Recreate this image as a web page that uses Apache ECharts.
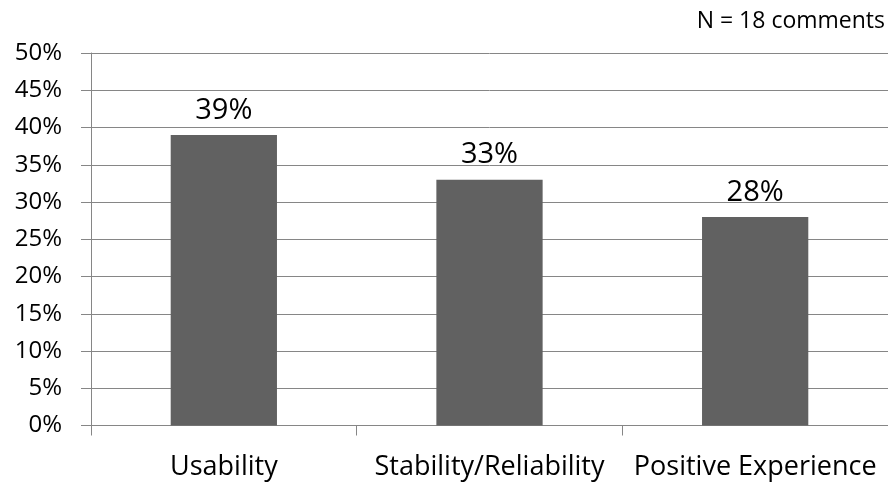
<!DOCTYPE html>
<html>
<head>
<meta charset="utf-8">
<script src="https://cdn.jsdelivr.net/npm/echarts@6/dist/echarts.min.js"></script>
<style>
  html, body { margin: 0; padding: 0; background: #ffffff; }
  #chart { width: 888px; height: 486px; }
</style>
</head>
<body>
<div id="chart"></div>
<script>
// Share of comments by theme
const categories = ['Usability', 'Stability/Reliability', 'Positive Experience'];
const shares = [39, 33, 28];
const noteText = 'N = 18 comments';

const FONT = '"Open Sans", "Noto Sans", sans-serif';
const GRID_COLOR = '#868686';

const chart = echarts.init(document.getElementById('chart'), null, { renderer: 'canvas' });

chart.setOption({
  backgroundColor: '#ffffff',
  animation: false,
  title: {
    text: noteText,
    right: 3,
    top: 10,
    padding: 0,
    textStyle: { fontFamily: FONT, fontSize: 23, fontWeight: 'normal', color: '#000000' }
  },
  grid: { left: 91, top: 53, width: 801, height: 372.5, containLabel: false },
  xAxis: {
    type: 'category',
    data: categories,
    axisLine: { show: true, lineStyle: { color: GRID_COLOR, width: 1 } },
    axisTick: { show: true, length: 10, lineStyle: { color: GRID_COLOR } },
    axisLabel: {
      fontFamily: FONT, fontSize: 27, color: '#000000', margin: 28,
      interval: 0, hideOverlap: false
    },
    splitLine: { show: false }
  },
  yAxis: {
    type: 'value',
    min: 0,
    max: 50,
    interval: 5,
    axisLine: { show: true, lineStyle: { color: GRID_COLOR, width: 1 } },
    axisTick: { show: true, length: 10, lineStyle: { color: GRID_COLOR } },
    axisLabel: {
      fontFamily: FONT, fontSize: 24, color: '#000000', margin: 29,
      formatter: v => v + '%'
    },
    splitLine: { show: true, lineStyle: { color: GRID_COLOR, width: 1 } }
  },
  series: [{
    type: 'bar',
    data: shares,
    barWidth: '40%',
    itemStyle: { color: '#616161' },
    label: {
      show: true,
      position: 'top',
      distance: 10,
      fontFamily: FONT,
      fontSize: 29,
      color: '#000000',
      formatter: p => p.value + '%'
    }
  }]
});
</script>
</body>
</html>
